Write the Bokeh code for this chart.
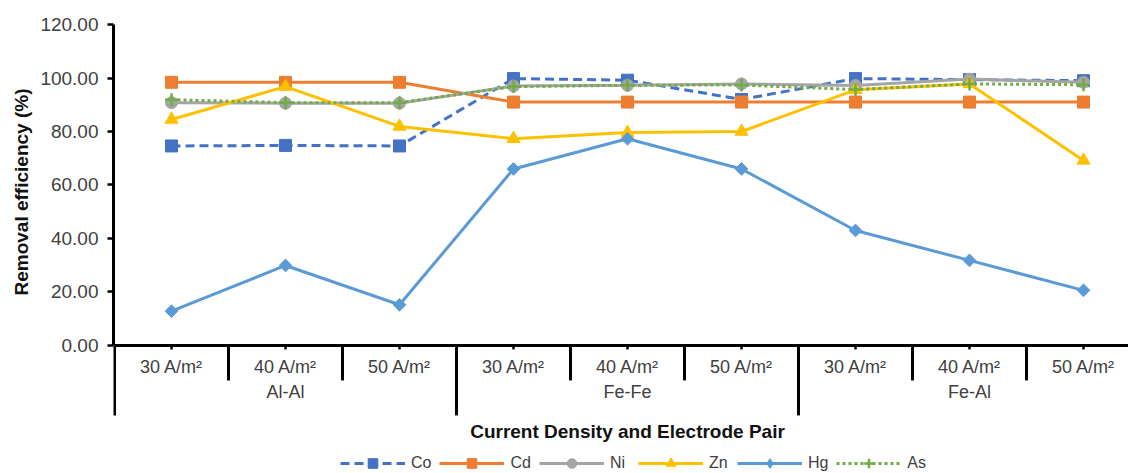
import math

import numpy as np
from bokeh.core.properties import value
from bokeh.embed import file_html
from bokeh.models import (ColumnDataSource, FixedTicker, Legend, LegendItem,
                          LinearAxis, NumeralTickFormatter, Range1d, Title)
from bokeh.plotting import figure
from bokeh.resources import INLINE

# ---- data -------------------------------------------------------------
densities = ["30 A/m²", "40 A/m²", "50 A/m²"]
pairs = ["Al-Al", "Fe-Fe", "Fe-Al"]
y_ticks = [0, 20, 40, 60, 80, 100, 120]

co = [74.6, 74.8, 74.6, 99.8, 99.2, 92.0, 99.8, 99.4, 99.0]
cd = [98.4, 98.4, 98.4, 91.0, 91.0, 91.0, 91.0, 91.0, 91.0]
ni = [90.8, 90.6, 90.6, 97.0, 97.3, 97.8, 97.2, 99.6, 98.4]
zn = [84.5, 96.8, 81.9, 77.3, 79.6, 80.0, 95.6, 97.8, 69.2]
hg = [12.8, 29.9, 15.2, 66.0, 77.3, 66.0, 43.0, 31.8, 20.6]
as_ = [91.9, 90.8, 90.8, 96.8, 97.3, 97.4, 95.7, 97.8, 97.5]

# ---- layout helpers ---------------------------------------------------
W, H = 1128, 473
LEFT = 113                      # room for the value axis
Y_LO, Y_HI = -47.9, 129.0       # extra room below zero for the category axis
PX_PER_UNIT = H / (Y_HI - Y_LO)
CAT_W = 114.0                   # pixel width of one category slot
X_LO = -1.0 / CAT_W
X_HI = X_LO + (W - LEFT) / CAT_W
Y_TITLE_HALF = 111              # half the length of the value-axis title, px


def down(px):
    """Data-space y for a point `px` pixels below the zero line."""
    return -px / PX_PER_UNIT


labels = [d for _ in pairs for d in densities]
n = len(labels)
xs = [i + 0.5 for i in range(n)]

FONT = value("Liberation Sans")
TXT = "#404040"

p = figure(width=W, height=H, output_backend="svg", toolbar_location=None,
           x_axis_location=None, y_axis_location=None,
           x_range=Range1d(X_LO, X_HI), y_range=Range1d(Y_LO, Y_HI),
           min_border_left=LEFT, min_border_right=0,
           min_border_top=0, min_border_bottom=0,
           background_fill_color="white", border_fill_color="white")
p.outline_line_color = None
p.xgrid.visible = False
p.ygrid.visible = False

# ---- value axis -------------------------------------------------------
yaxis = LinearAxis(bounds=(y_ticks[0], y_ticks[-1]),
                   ticker=FixedTicker(ticks=y_ticks),
                   formatter=NumeralTickFormatter(format="0.00"))
yaxis.axis_line_color = "black"
yaxis.axis_line_width = 3
yaxis.major_tick_line_color = "black"
yaxis.major_tick_line_width = 2.5
yaxis.major_tick_out = 6
yaxis.major_tick_in = 0
yaxis.minor_tick_line_color = None
yaxis.major_label_standoff = 9
yaxis.major_label_text_font = "Liberation Sans"
yaxis.major_label_text_font_size = "19px"
yaxis.major_label_text_color = TXT
p.add_layout(yaxis, "left")

# axis title: anchored at its start, raised so it centres on the value axis
y_mid = (y_ticks[0] + y_ticks[-1]) / 2
p.add_layout(Title(text="Removal efficiency (%)", align="left",
                   offset=round((y_mid - Y_LO) * PX_PER_UNIT - Y_TITLE_HALF),
                   standoff=12,
                   text_font="Liberation Sans", text_font_size="19px",
                   text_font_style="bold", text_color="#111111"), "left")

# ---- category axis (drawn in data space below zero) --------------------
p.segment(x0=[0], y0=[0], x1=[n], y1=[0], line_color="black", line_width=3)

# small ticks at every category centre
p.segment(x0=xs, y0=[0] * n, x1=xs, y1=[down(4)] * n,
          line_color="black", line_width=2.5)

# separators: short between densities, long between electrode pairs
bx = list(range(0, n + 1))
by = [down(70) if b % len(densities) == 0 else down(35) for b in bx]
p.segment(x0=bx, y0=[0] * len(bx), x1=bx, y1=by,
          line_color="black", line_width=3)

p.text(x=xs, y=[down(22)] * n, text=labels, text_font=FONT,
       text_font_size=value("18px"), text_color=TXT,
       text_align="center", text_baseline="middle")

gx = [g * len(densities) + len(densities) / 2 for g in range(len(pairs))]
p.text(x=gx, y=[down(47)] * len(pairs), text=pairs, text_font=FONT,
       text_font_size=value("18px"), text_color=TXT,
       text_align="center", text_baseline="middle")

p.text(x=[n / 2], y=[down(86)], text=["Current Density and Electrode Pair"],
       text_font=FONT, text_font_size=value("19px"), text_font_style="bold",
       text_color="#111111", text_align="center", text_baseline="middle")

# ---- series -----------------------------------------------------------
# (name, values, colour, dash, marker, size, angle, legend marker)
series = [
    ("Co", co, "#4472C4", "9 5", "square", 12, 0.0, "square"),
    ("Cd", cd, "#ED7D31", "solid", "square", 12, 0.0, "square"),
    ("Ni", ni, "#A5A5A5", "solid", "circle", 12, 0.0, "circle"),
    ("Zn", zn, "#FFC000", "solid", "triangle", 13, 0.0, "triangle"),
    ("Hg", hg, "#5B9BD5", "solid", "square", 9, math.pi / 4, "diamond"),
    ("As", as_, "#70AD47", "3 3", "cross", 13, 0.0, "cross"),
]

items = []
for name, vals, color, dash, marker, size, angle, leg_marker in series:
    src = ColumnDataSource(dict(x=xs, y=vals))
    lr = p.line("x", "y", source=src, line_color=color, line_width=3,
                line_dash=dash)
    if marker == "cross":
        sr = p.scatter("x", "y", source=src, marker=marker, size=size,
                       line_color=color, line_width=2.5)
    else:
        sr = p.scatter("x", "y", source=src, marker=marker, size=size,
                       angle=angle, fill_color=color, line_color=color)
    handles = [lr, sr]
    if leg_marker != marker:
        # legend-only handle (a rotated square is not rotated in legends);
        # its single point is NaN, so nothing is drawn in the plot itself
        blank = ColumnDataSource(dict(x=np.array([np.nan]),
                                      y=np.array([np.nan])))
        handles = [lr, p.scatter("x", "y", source=blank, marker=leg_marker,
                                 size=size, fill_color=color,
                                 line_color=color)]
    items.append(LegendItem(label=name, renderers=handles))

legend = Legend(items=items, location=(227, -2), orientation="horizontal",
                glyph_width=65, glyph_height=24, label_standoff=6,
                spacing=8, padding=0, margin=0,
                label_text_font="Liberation Sans", label_text_font_size="16px",
                label_text_color=TXT, border_line_color=None,
                background_fill_alpha=0)
p.add_layout(legend)

open("out.html", "w").write(file_html(p, INLINE))
